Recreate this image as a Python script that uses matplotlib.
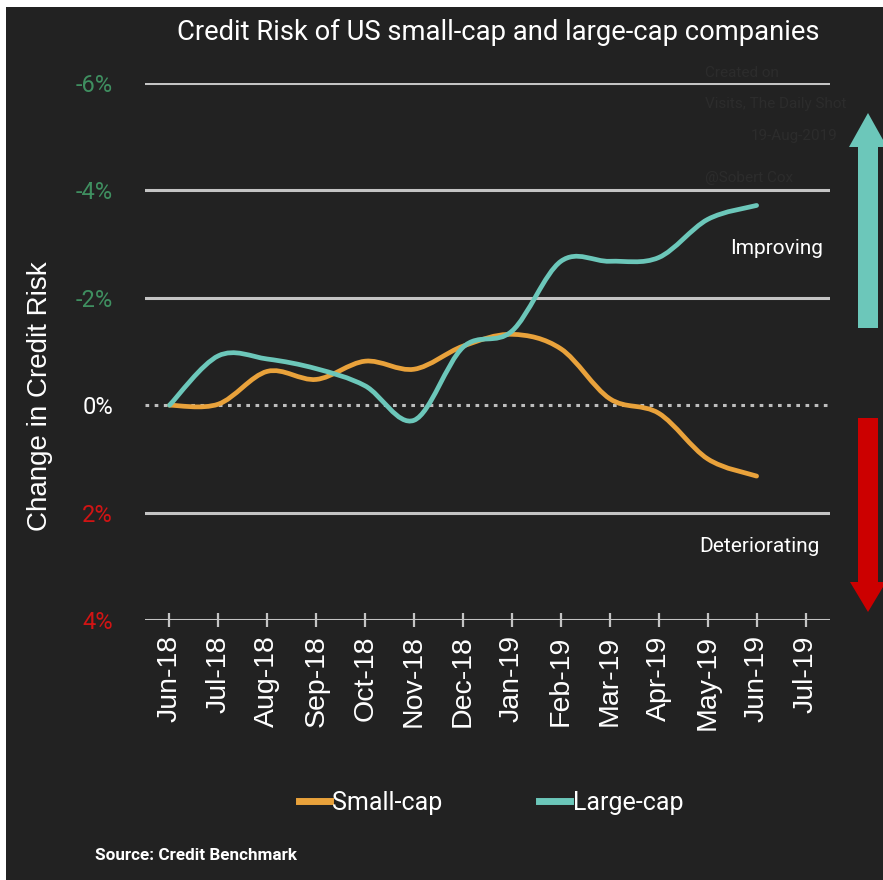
import matplotlib
matplotlib.use("Agg")
import matplotlib.pyplot as plt
from matplotlib.path import Path
from matplotlib.patches import PathPatch, Rectangle, FancyArrow
from matplotlib.lines import Line2D
import numpy as np

# ---- data -------------------------------------------------------------
months = ["Jun-18", "Jul-18", "Aug-18", "Sep-18", "Oct-18", "Nov-18", "Dec-18",
          "Jan-19", "Feb-19", "Mar-19", "Apr-19", "May-19", "Jun-19", "Jul-19"]
small_cap = [0.0, -0.02, -0.63, -0.48, -0.82, -0.67, -1.10, -1.32, -1.05,
             -0.12, 0.15, 1.00, 1.32]
large_cap = [0.0, -0.92, -0.86, -0.68, -0.36, 0.28, -1.08, -1.38, -2.68,
             -2.68, -2.75, -3.46, -3.72]
y_ticks = [-6, -4, -2, 0, 2, 4]
y_tick_labels = ["-6%", "-4%", "-2%", "0%", "2%", "4%"]

# ---- style ------------------------------------------------------------
BG = "#222222"
GRID = "#c4c4c4"
ORANGE = "#e9a23b"
TEAL = "#6cc7ba"
GREEN = "#3f8f60"
RED = "#d11414"
NARROW = ["Roboto", "DejaVu Sans"]
REGULAR = ["Liberation Sans", "DejaVu Sans"]

fig = plt.figure(figsize=(8.83, 8.80), dpi=100, facecolor="white")
W, H = 883, 880

# dark panel (thin white margin on top and left)
fig.add_artist(Rectangle((6 / W, 0), 1, 1 - 7 / H, transform=fig.transFigure,
                         facecolor=BG, edgecolor="none", zorder=0))

ax = fig.add_axes([145 / W, 1 - 620 / H, (830 - 145) / W, (620 - 83) / H])
ax.set_facecolor(BG)
ax.patch.set_alpha(0)
for s in ax.spines.values():
    s.set_visible(False)

x = np.arange(len(months))
ax.set_xlim(-0.5, len(months) - 0.5)
ax.set_ylim(4, -6)


def smooth_path(xs, ys):
    """Cubic Bezier path through the points (Catmull-Rom tangents)."""
    pts = np.column_stack([xs, ys]).astype(float)
    n = len(pts)
    verts = [pts[0]]
    codes = [Path.MOVETO]
    for i in range(n - 1):
        p0 = pts[i - 1] if i > 0 else pts[i]
        p1 = pts[i]
        p2 = pts[i + 1]
        p3 = pts[i + 2] if i + 2 < n else pts[i + 1]
        c1 = p1 + (p2 - p0) / 6.0
        c2 = p2 - (p3 - p1) / 6.0
        verts += [c1, c2, p2]
        codes += [Path.CURVE4] * 3
    return Path(verts, codes)


# grid lines
for t in y_ticks:
    if t == 0:
        ax.axhline(0, color="#bdbdbd", lw=2.2, ls=(0, (1.2, 1.8)), zorder=1)
    else:
        ax.axhline(t, color=GRID, lw=2.2, zorder=1)

# series
for vals, col in [(small_cap, ORANGE), (large_cap, TEAL)]:
    ax.add_patch(PathPatch(smooth_path(x[:len(vals)], vals), facecolor="none",
                           edgecolor=col, lw=3.4, capstyle="round", zorder=3))

# axes ticks
ax.set_xticks(x)
ax.set_xticklabels(months, rotation=90, color="white", fontsize=20.5,
                   family=REGULAR)
ax.tick_params(axis="x", direction="inout", length=10, width=1.6, color=GRID,
               pad=6)
ax.set_yticks(y_ticks)
ax.set_yticklabels(y_tick_labels, fontsize=17, family=NARROW)
ax.tick_params(axis="y", length=0, pad=23)
for lbl, t in zip(ax.get_yticklabels(), y_ticks):
    lbl.set_color(GREEN if t < 0 else (RED if t > 0 else "white"))

ax.set_ylabel("Change in Credit Risk", color="white", fontsize=20,
              family=REGULAR, va="center")
ax.yaxis.set_label_coords((40 - 145) / 685, (620 - 396) / 537)

# title
fig.text(498 / W, 1 - 32 / H, "Credit Risk of US small-cap and large-cap companies",
         ha="center", va="center", color="white", fontsize=19.7, family=NARROW)

# direction labels
fig.text(823 / W, 1 - 248 / H, "Improving", ha="right", va="center",
         color="white", fontsize=15, family=NARROW)
fig.text(820 / W, 1 - 547 / H, "Deteriorating", ha="right", va="center",
         color="white", fontsize=15, family=NARROW)

# faint credit text
for txt, xx, yy, ha in [("Created on", 705, 73, "left"),
                        ("Visits, The Daily Shot", 705, 104, "left"),
                        ("19-Aug-2019", 838, 136, "right"),
                        ("@Sobert Cox", 705, 178, "left")]:
    fig.text(xx / W, 1 - yy / H, txt, ha=ha, va="center", color="#2c2c2c",
             fontsize=11, family=NARROW)

# arrows at the right edge
fig.add_artist(FancyArrow(868 / W, 1 - 328 / H, 0, (328 - 113) / H,
                          width=20 / W, head_width=38 / W, head_length=34 / H,
                          length_includes_head=True, transform=fig.transFigure,
                          color=TEAL, lw=0))
fig.add_artist(FancyArrow(868 / W, 1 - 418 / H, 0, -(612 - 418) / H,
                          width=20 / W, head_width=36 / W, head_length=30 / H,
                          length_includes_head=True, transform=fig.transFigure,
                          color="#cc0000", lw=0))

# legend
handles = [Line2D([], [], color=ORANGE, lw=5),
           Line2D([], [], color=TEAL, lw=5)]
leg = fig.legend(handles, ["Small-cap", "Large-cap"], loc="center",
                 bbox_to_anchor=(491 / W, 1 - 803 / H), ncol=2, frameon=False,
                 handlelength=1.25, handletextpad=0.1, columnspacing=3.85,
                 prop={"family": NARROW, "size": 18})
for t in leg.get_texts():
    t.set_color("white")

# source
fig.text(95 / W, 1 - 855 / H, "Source: Credit Benchmark", ha="left",
         va="center", color="white", fontsize=12.3, family=NARROW,
         weight="bold")

fig.savefig("out.png", dpi=100, facecolor=fig.get_facecolor())
